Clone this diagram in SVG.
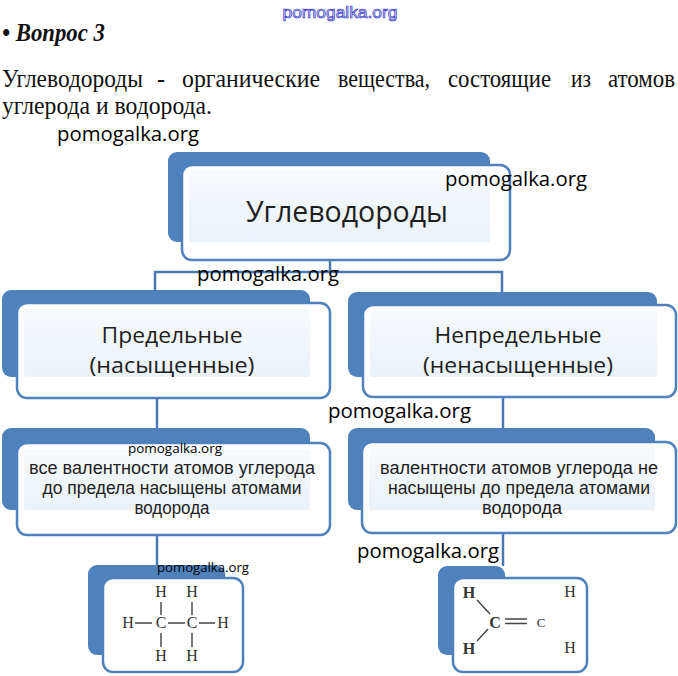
<svg xmlns="http://www.w3.org/2000/svg" width="678" height="676" viewBox="0 0 678 676">
<defs>
<linearGradient id="inner" x1="0" y1="0" x2="0" y2="1">
<stop offset="0" stop-color="#f7fafd"/>
<stop offset="1" stop-color="#eaf1f8"/>
</linearGradient>
</defs>
<style>
.back{fill:#4f81bd}
.front{fill:#fff;stroke:#4f81bd;stroke-width:2.5}
.inner{fill:url(#inner)}
.conn{stroke:#4a78b0;stroke-width:2.5;fill:none}
.lbl{font-family:"Open Sans","Noto Sans","Liberation Sans",sans-serif;fill:#1e1e1e;text-anchor:middle}
.body{font-family:"Liberation Sans","Open Sans",sans-serif;fill:#1e1e1e;text-anchor:middle;font-size:17.5px}
.wm{font-family:"Open Sans","Noto Sans","Liberation Sans",sans-serif;fill:#000}
.ser{font-family:"Liberation Serif","DejaVu Serif",serif;fill:#111}
.chem{font-family:"Liberation Serif","DejaVu Serif",serif;fill:#333;font-size:16px;text-anchor:middle}
.bond{stroke:#444;stroke-width:1.4;fill:none}
</style>
<rect width="678" height="676" fill="#fff"/>

<text x="340" y="18" text-anchor="middle" font-family="Liberation Sans, sans-serif" font-size="17" fill="#d8d8f6" stroke="#3535c8" stroke-width="0.7" textLength="115" lengthAdjust="spacingAndGlyphs">pomogalka.org</text>
<g transform="translate(0,41) scale(1,1.2)">
<text class="ser" x="2" y="0" font-size="21" font-weight="bold" font-style="italic" textLength="103" lengthAdjust="spacingAndGlyphs">• Вопрос 3</text>
</g>
<g class="ser" font-size="22" transform="translate(0,87) scale(1,1.12)">
<text x="2" y="0" textLength="141" lengthAdjust="spacingAndGlyphs">Углеводороды</text>
<text x="157" y="0" textLength="8" lengthAdjust="spacingAndGlyphs">-</text>
<text x="182" y="0" textLength="138" lengthAdjust="spacingAndGlyphs">органические</text>
<text x="338" y="0" textLength="92" lengthAdjust="spacingAndGlyphs">вещества,</text>
<text x="448" y="0" textLength="103" lengthAdjust="spacingAndGlyphs">состоящие</text>
<text x="571" y="0" textLength="20" lengthAdjust="spacingAndGlyphs">из</text>
<text x="608" y="0" textLength="67" lengthAdjust="spacingAndGlyphs">атомов</text>
</g>
<g class="ser" font-size="22" transform="translate(0,114) scale(1,1.12)">
<text x="2" y="0" textLength="210" lengthAdjust="spacingAndGlyphs">углерода и водорода.</text>
</g>

<g id="connectors">
<path class="conn" d="M330,260 V272 M155,290 V272 H502 V292"/>
<path class="conn" d="M157,398 V428"/>
<path class="conn" d="M503,397 V428"/>
<path class="conn" d="M157,535 V565"/>
<path class="conn" d="M503,533 V566"/>
</g>

<g id="node-root">
<rect class="back" x="168" y="152" width="322" height="90" rx="9"/>
<rect class="front" x="182" y="165" width="328" height="95" rx="10"/>
<rect class="inner" x="189" y="171" width="301" height="71" rx="3"/>
<text class="lbl" x="347" y="222" font-size="29" textLength="202" lengthAdjust="spacingAndGlyphs">Углеводороды</text>
</g>

<g id="node-saturated">
<rect class="back" x="2" y="290" width="308" height="87" rx="9"/>
<rect class="front" x="17" y="303" width="313" height="95" rx="10"/>
<rect class="inner" x="24" y="309" width="286" height="68" rx="3"/>
<text class="lbl" x="172" y="343" font-size="22" textLength="141" lengthAdjust="spacingAndGlyphs">Предельные</text>
<text class="lbl" x="172" y="373" font-size="22" textLength="165" lengthAdjust="spacingAndGlyphs">(насыщенные)</text>
</g>

<g id="node-unsaturated">
<rect class="back" x="348" y="292" width="309" height="85" rx="9"/>
<rect class="front" x="363" y="305" width="313" height="92" rx="10"/>
<rect class="inner" x="370" y="311" width="287" height="66" rx="3"/>
<text class="lbl" x="518" y="343" font-size="22" textLength="167" lengthAdjust="spacingAndGlyphs">Непредельные</text>
<text class="lbl" x="518" y="373" font-size="22" textLength="190" lengthAdjust="spacingAndGlyphs">(ненасыщенные)</text>
</g>

<g id="node-saturated-def">
<rect class="back" x="2" y="428" width="308" height="82" rx="9"/>
<rect class="front" x="17" y="443" width="313" height="92" rx="10"/>
<rect class="inner" x="24" y="449" width="286" height="61" rx="3"/>
<text class="body" x="172" y="474" textLength="286" lengthAdjust="spacingAndGlyphs">все валентности атомов углерода</text>
<text class="body" x="172" y="494" textLength="259" lengthAdjust="spacingAndGlyphs">до предела насыщены атомами</text>
<text class="body" x="172" y="514" textLength="75" lengthAdjust="spacingAndGlyphs">водорода</text>
</g>

<g id="node-unsaturated-def">
<rect class="back" x="348" y="428" width="307" height="82" rx="9"/>
<rect class="front" x="362" y="442" width="314" height="91" rx="10"/>
<rect class="inner" x="369" y="448" width="286" height="62" rx="3"/>
<text class="body" x="519" y="474" textLength="278" lengthAdjust="spacingAndGlyphs">валентности атомов углерода не</text>
<text class="body" x="519" y="494" textLength="262" lengthAdjust="spacingAndGlyphs">насыщены до предела атомами</text>
<text class="body" x="522" y="514" textLength="80" lengthAdjust="spacingAndGlyphs">водорода</text>
</g>

<g id="node-ethane">
<rect class="back" x="88" y="565" width="137" height="90" rx="9"/>
<rect class="front" x="103" y="578" width="140" height="94" rx="10"/>
<g class="chem">
<text x="161" y="597">H</text><text x="192" y="597">H</text>
<text x="128" y="628">H</text><text x="161" y="628">C</text><text x="192" y="628">C</text><text x="223" y="628">H</text>
<text x="161" y="661">H</text><text x="192" y="661">H</text>
</g>
<path class="bond" d="M161,602 V615 M192,602 V615 M161,633 V647 M192,633 V647 M135,623 H152 M168,623 H185 M199,623 H215"/>
</g>

<g id="node-ethylene">
<rect class="back" x="438" y="566" width="67" height="89" rx="9"/>
<rect class="front" x="453" y="578" width="134" height="94" rx="10"/>
<g class="chem" font-weight="bold" font-size="17">
<text x="469" y="598">H</text>
<text x="495" y="628">C</text>
<text x="469" y="654">H</text>
</g>
<g class="chem" fill="#777">
<text x="541" y="627" font-size="13">C</text>
<text x="570" y="597">H</text>
<text x="570" y="653">H</text>
</g>
<path class="bond" d="M477,600 L490,614 M488,629 L477,641 M505,619 H527 M505,623.5 H527"/>
</g>

<g id="watermarks">
<text class="wm" x="57" y="141" font-size="20" textLength="142" lengthAdjust="spacingAndGlyphs">pomogalka.org</text>
<text class="wm" x="445" y="186" font-size="20" textLength="142" lengthAdjust="spacingAndGlyphs">pomogalka.org</text>
<text class="wm" x="197" y="281" font-size="20" textLength="142" lengthAdjust="spacingAndGlyphs">pomogalka.org</text>
<text class="wm" x="328" y="418" font-size="20" textLength="143" lengthAdjust="spacingAndGlyphs">pomogalka.org</text>
<text class="wm" x="128" y="453" font-size="12" textLength="94" lengthAdjust="spacingAndGlyphs">pomogalka.org</text>
<text class="wm" x="357" y="558" font-size="20" textLength="142" lengthAdjust="spacingAndGlyphs">pomogalka.org</text>
<text class="wm" x="157" y="572" font-size="13" textLength="92" lengthAdjust="spacingAndGlyphs">pomogalka.org</text>
</g>
</svg>
